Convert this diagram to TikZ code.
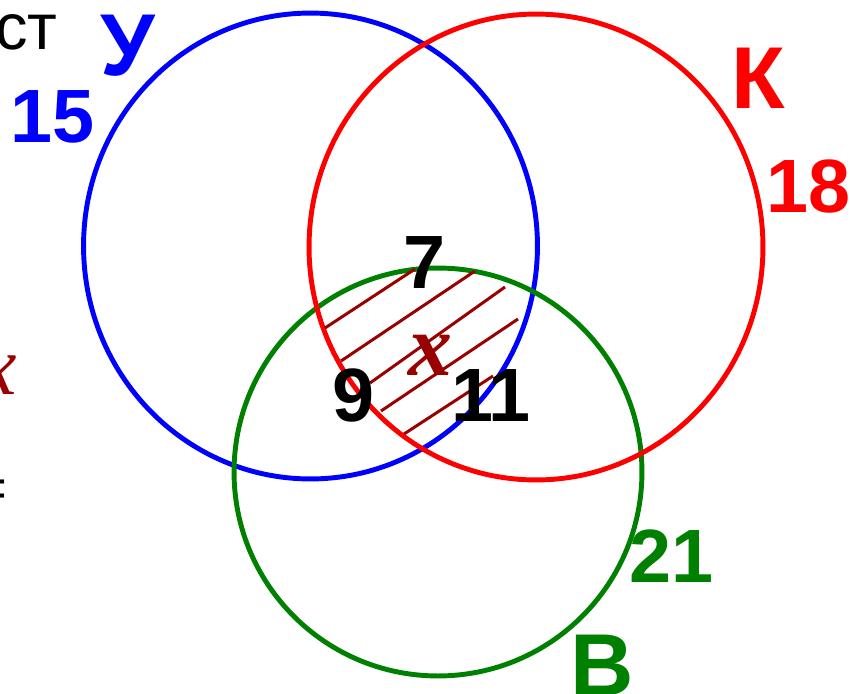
\documentclass[tikz,border=0pt]{standalone}
\usepackage{fontspec}
\setmainfont{Liberation Sans}
\newfontfamily\timesit{Liberation Serif}
\definecolor{dred}{RGB}{153,0,0}
\definecolor{dgreen}{RGB}{0,128,0}

\begin{document}
\begin{tikzpicture}[x=0.02cm,y=-0.02cm,
  ring/.style={line width=2.8pt},
  hatch/.style={dred,line width=1.7pt},
  big/.style={inner sep=0pt,font=\bfseries\fontsize{50}{56}\selectfont},
  num/.style={inner sep=0pt,font=\bfseries\fontsize{43}{48}\selectfont},
  var/.style={inner sep=0pt,dred,font=\timesit\bfseries\itshape\fontsize{50}{54}\selectfont}]
\clip (0,0) rectangle (850,694);
% the three sets
\draw [ring,blue] (310.5,246) ellipse [x radius=4.54cm, y radius=4.66cm];
\draw [ring,dgreen] (438,472) ellipse [x radius=4.08cm, y radius=4.08cm];
\draw [ring,red] (536,247) ellipse [x radius=4.54cm, y radius=4.66cm];
% shading of the common part
\draw [hatch] (325,328) -- (415,269);
\draw [hatch] (341,361) -- (475,271);
\draw [hatch] (370,383) -- (505,287);
\draw [hatch] (381,411) -- (518,319);
\draw [hatch] (404,434) -- (493,376);
% labels
\node [big,blue] (u) at (128,46) {У};
\node [num,blue] (nu) at (53,117) {15};
\node [big,red] (k) at (758,78) {К};
\node [num,red] (nk) at (809,186) {18};
\node [big,dgreen] (v) at (602,665) {В};
\node [num,dgreen] (nv) at (672,556) {21};
\node [num] (uk) at (425,263) {7};
\node [num] (uv) at (354,395) {9};
\node [num] (kv) at (491,396) {11};
\node [var] (x) at (430,355) {x};
% text cut by the left edge
\node [inner sep=0pt,anchor=east,font=\fontsize{37}{42}\selectfont] (t) at (58,32) {ост};
\node [var,anchor=east,font=\timesit\itshape\fontsize{48}{52}\selectfont] (xl) at (17,375) {x};
\node [inner sep=0pt,anchor=east,font=\fontsize{32}{36}\selectfont] (eq) at (8,494) {=};
\end{tikzpicture}
\end{document}
